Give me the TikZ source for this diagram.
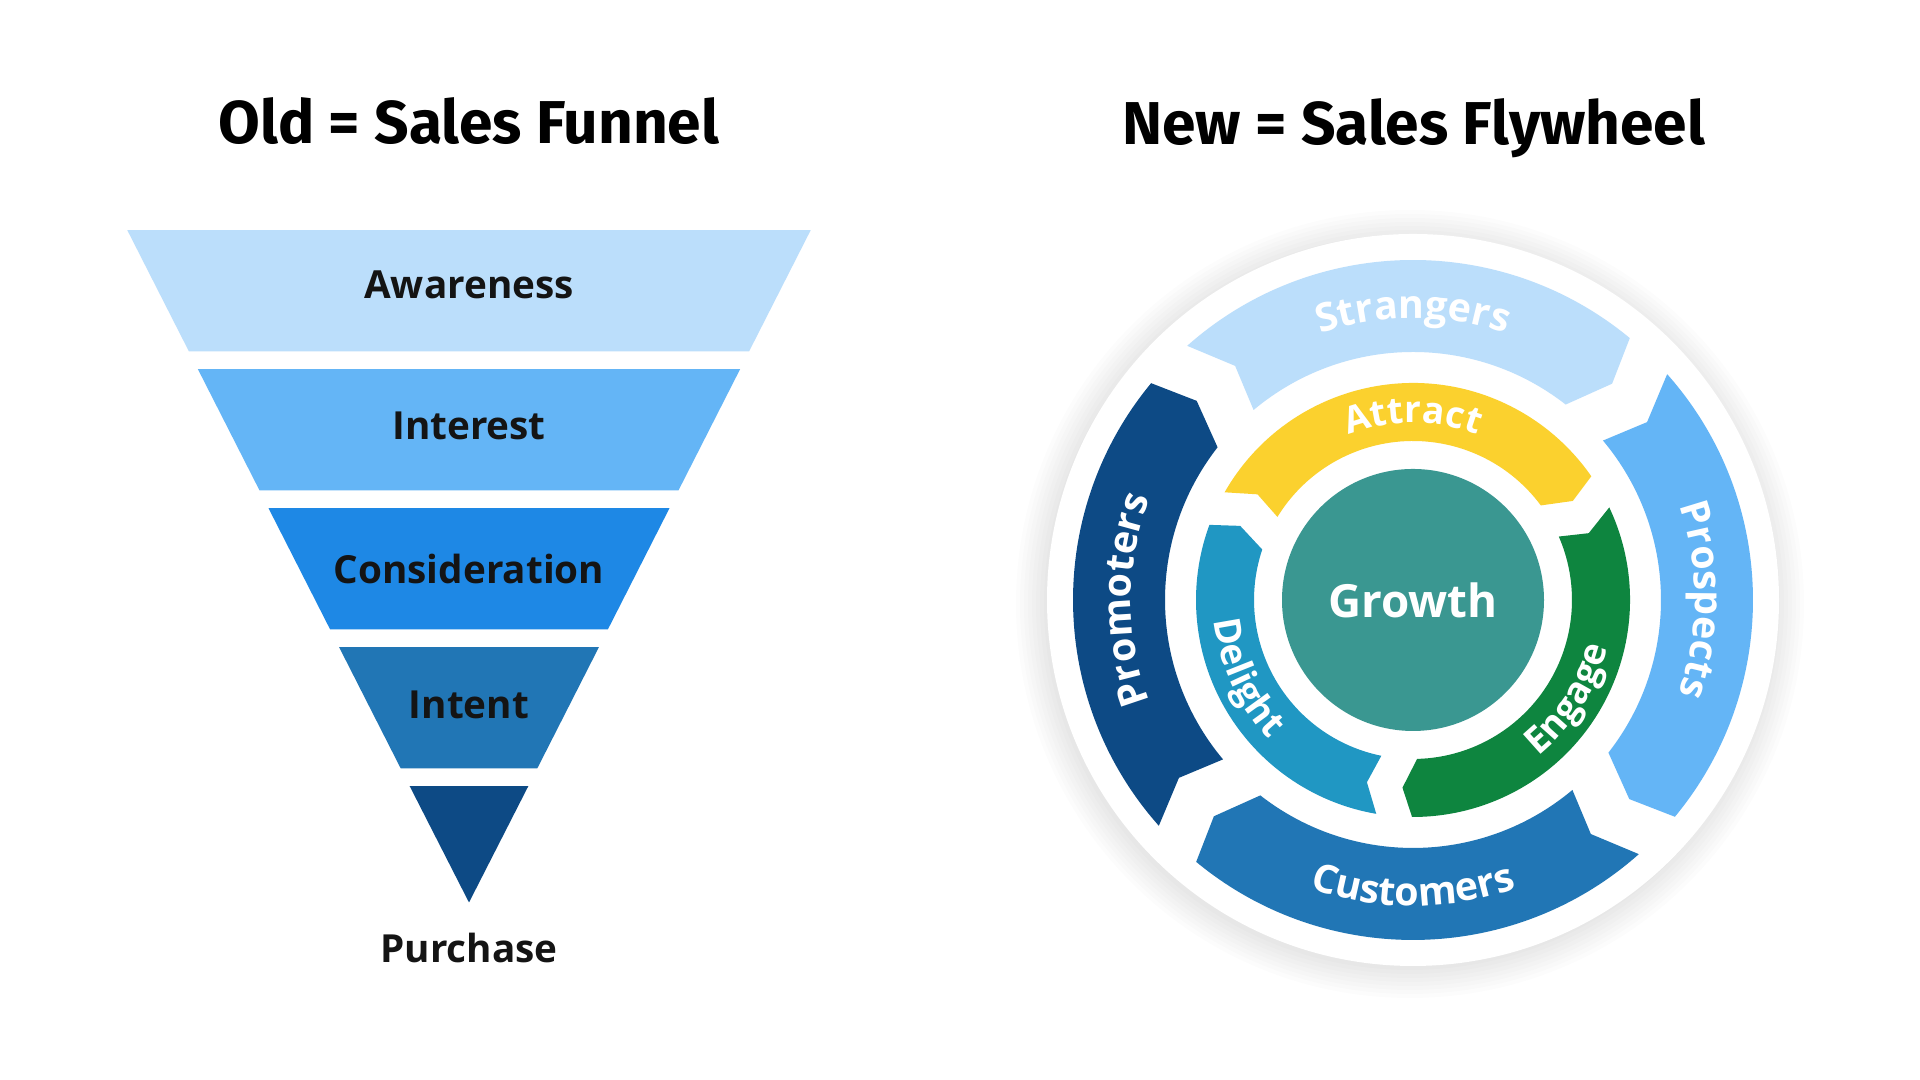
\documentclass[tikz,border=0pt]{standalone}
\usepackage{fontspec}
\setmainfont{Open Sans}
\newfontfamily\headfont{Fira Sans}
\usepackage{tikz}
\usetikzlibrary{decorations.text}

\definecolor{awareblue}{HTML}{BBDEFB}
\definecolor{interestblue}{HTML}{64B5F6}
\definecolor{considerblue}{HTML}{1E88E5}
\definecolor{intentblue}{HTML}{2176B5}
\definecolor{purchaseblue}{HTML}{0D4A85}
\definecolor{attractyellow}{HTML}{FBD12E}
\definecolor{engagegreen}{HTML}{0E853F}
\definecolor{delightblue}{HTML}{2097C3}
\definecolor{growthteal}{HTML}{3A9791}

\begin{document}
\begin{tikzpicture}[x=0.01cm, y=0.01cm,
    headline/.style={font=\headfont\bfseries\fontsize{17.2}{20}\selectfont, inner sep=0},
    stage/.style={font=\bfseries\fontsize{11}{13}\selectfont, text=black!92, inner sep=0},
    hub/.style={font=\bfseries\fontsize{13}{15}\selectfont, text=white, inner sep=0},
    outertext/.style={decorate, decoration={text along path, text align=center, text color=white,
        text={|\bfseries\fontsize{11.2}{13}\selectfont|#1}}},
    innertext/.style={decorate, decoration={text along path, text align=center, text color=white,
        text={|\bfseries\fontsize{10.5}{12}\selectfont|#1}}}]

    \fill[white] (0,0) rectangle (1920,1080);
    \useasboundingbox (0,0) rectangle (1920,1080);

    % titles
    \node (oldtitle) at (469,936.7) [headline, anchor=base] {Old = Sales Funnel};
    \node (newtitle) at (1413.7,935.5) [headline, anchor=base] {New = Sales Flywheel};

    % funnel bands
    \fill[awareblue] (127.3,849.8) -- (810.7,849.8) -- (749.1,728.6) -- (188.9,728.6) -- cycle;
    \fill[interestblue] (197.9,710.8) -- (740.1,710.8) -- (678.5,589.6) -- (259.5,589.6) -- cycle;
    \fill[considerblue] (268.5,571.8) -- (669.5,571.8) -- (607.9,450.6) -- (330.1,450.6) -- cycle;
    \fill[intentblue] (339.1,432.8) -- (598.9,432.8) -- (537.3,311.6) -- (400.7,311.6) -- cycle;
    \fill[purchaseblue] (409.7,293.8) -- (528.3,293.8) -- (469,177.5) -- cycle;

    \node (aware) at (469,794.7) [stage] {Awareness};
    \node (interest) at (469,654) [stage] {Interest};
    \node (consider) at (469,510.6) [stage] {Consideration};
    \node (intent) at (469,374.7) [stage] {Intent};
    \node (purchase) at (469,132.2) [stage] {Purchase};

    % flywheel
    \begin{scope}[shift={(1413,480)}]
        \foreach \r in {394,390,...,366}
            \fill[black, opacity=0.013] (-3,-4) circle[radius=\r];
        \fill[white] (0,0) circle[radius=366];

        % outer ring: tail gap / head gap / colour
        \foreach \a/\b/\col in {136/46/awareblue, 46/-44/interestblue, -44/-134/intentblue, 226/136/purchaseblue}
            \fill[\col] ({\a-4.38}:340) arc[start angle={\a-4.38}, end angle={\b+4.38}, radius=340]
                -- ({\b-3.7+5.07}:294) -- ({\b+6}:248)
                arc[start angle={\b+6}, end angle={\a-6}, radius=248]
                -- ({\a-3.7-5.07}:294) -- cycle;

        % inner ring
        \foreach \a/\b/\col in {155/30/attractyellow, 30/-95/engagegreen, 265/155/delightblue}
            \fill[\col] ({\a-4.75}:217) arc[start angle={\a-4.75}, end angle={\b+4.75}, radius=217]
                -- ({\b-3.7+5.49}:188) -- ({\b+6.49}:159)
                arc[start angle={\b+6.49}, end angle={\a-6.49}, radius=159]
                -- ({\a-3.7-5.49}:188) -- cycle;

        \fill[growthteal] (0,0) circle[radius=131];
        \node (growth) at (0,0) [hub] {Growth};

        \path[outertext=Strangers] (125:282) arc[start angle=125, end angle=55, radius=282];
        \path[outertext=Prospects] (35:282) arc[start angle=35, end angle=-35, radius=282];
        \path[outertext=Customers] (-130:306) arc[start angle=-130, end angle=-50, radius=306];
        \path[outertext=Promoters] (215:282) arc[start angle=215, end angle=145, radius=282];

        \path[innertext=Attract] (125:177) arc[start angle=125, end angle=55, radius=177];
        \path[innertext=Engage] (-72:200) arc[start angle=-72, end angle=7, radius=200];
        \path[innertext=Delight] (165:200) arc[start angle=165, end angle=245, radius=200];
    \end{scope}
\end{tikzpicture}
\end{document}
